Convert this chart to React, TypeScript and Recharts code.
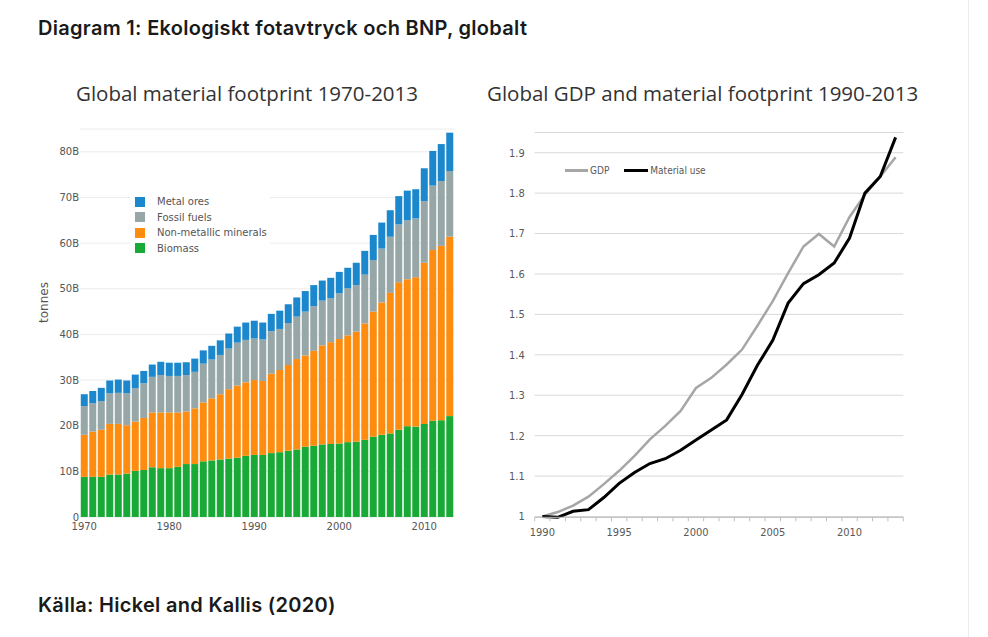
import React from "react";
import { BarChart, Bar, LineChart, Line, XAxis, YAxis, CartesianGrid, Legend } from "recharts";

// material footprint, billion tonnes, 1970-2013
const years = [
  1970, 1971, 1972, 1973, 1974, 1975, 1976, 1977, 1978, 1979, 1980, 1981, 1982, 1983, 1984,
  1985, 1986, 1987, 1988, 1989, 1990, 1991, 1992, 1993, 1994, 1995, 1996, 1997, 1998, 1999,
  2000, 2001, 2002, 2003, 2004, 2005, 2006, 2007, 2008, 2009, 2010, 2011, 2012, 2013,
];
const biomass = [
  8.8, 8.8, 8.8, 9.3, 9.3, 9.5, 10.1, 10.3, 10.9, 10.7, 10.7, 11.0, 11.6, 11.6, 12.2,
  12.4, 12.6, 12.8, 13.0, 13.4, 13.6, 13.6, 14.0, 14.2, 14.5, 14.8, 15.4, 15.6, 15.9, 16.0,
  16.1, 16.4, 16.5, 16.9, 17.6, 18.0, 18.3, 19.1, 19.9, 19.8, 20.4, 21.1, 21.2, 22.1,
];
const nonMetallic = [
  9.2, 9.9, 10.3, 11.1, 11.1, 10.6, 10.8, 11.4, 12.0, 12.2, 12.2, 11.9, 11.5, 12.2, 12.9,
  13.6, 14.3, 15.2, 15.8, 16.1, 16.4, 16.2, 17.4, 18.0, 18.8, 19.8, 20.0, 20.8, 21.7, 22.3,
  22.9, 23.4, 24.1, 25.5, 27.4, 29.0, 30.8, 32.3, 32.2, 32.7, 35.3, 37.4, 38.2, 39.3,
];
const fossil = [
  6.3, 6.2, 6.3, 6.7, 6.8, 7.0, 7.3, 7.6, 7.8, 8.2, 8.0, 8.0, 8.0, 8.0, 8.5,
  8.5, 8.6, 8.9, 9.4, 9.3, 9.1, 9.1, 9.3, 9.0, 9.2, 9.3, 9.6, 9.8, 9.8, 9.6,
  10.0, 10.3, 10.2, 10.7, 11.3, 11.8, 12.3, 12.7, 12.9, 12.9, 13.5, 14.1, 14.2, 14.4,
];
const metalOres = [
  2.6, 2.7, 2.9, 2.8, 2.9, 2.8, 3.0, 2.7, 2.7, 2.9, 2.9, 2.9, 2.8, 2.9, 2.9,
  3.0, 3.2, 3.3, 3.5, 3.8, 3.9, 3.7, 3.8, 4.0, 4.1, 4.2, 4.5, 4.6, 4.4, 4.5,
  4.7, 4.5, 4.9, 5.2, 5.5, 5.7, 5.8, 6.2, 6.5, 6.4, 7.2, 7.6, 8.1, 8.4,
];
const footprintTicks = [0, 10, 20, 30, 40, 50, 60, 70, 80];

// GDP and material use indexed to 1990 = 1
const lineYears = [
  1990, 1991, 1992, 1993, 1994, 1995, 1996, 1997, 1998, 1999, 2000, 2001,
  2002, 2003, 2004, 2005, 2006, 2007, 2008, 2009, 2010, 2011, 2012, 2013,
];
const gdp = [
  1.0, 1.011, 1.027, 1.049, 1.08, 1.113, 1.15, 1.191, 1.224, 1.261, 1.318, 1.343,
  1.376, 1.413, 1.472, 1.533, 1.602, 1.668, 1.699, 1.668, 1.741, 1.796, 1.841, 1.889,
];
const materialUse = [
  1.0, 0.998, 1.013, 1.017, 1.047, 1.082, 1.109, 1.131, 1.143, 1.164, 1.189, 1.214,
  1.239, 1.302, 1.374, 1.436, 1.528, 1.576, 1.598, 1.627, 1.689, 1.8, 1.841, 1.938,
];
const indexTicks = [1, 1.1, 1.2, 1.3, 1.4, 1.5, 1.6, 1.7, 1.8, 1.9];

const footprintData = years.map((year, i) => ({
  year,
  biomass: biomass[i],
  nonMetallic: nonMetallic[i],
  fossil: fossil[i],
  metalOres: metalOres[i],
}));

const indexData = lineYears.map((year, i) => ({ year, gdp: gdp[i], materialUse: materialUse[i] }));

const COLORS = {
  metalOres: "#1b87cc",
  fossil: "#97a6a6",
  nonMetallic: "#fd8c0f",
  biomass: "#19a936",
};

const legendItems = [
  { key: "metalOres", label: "Metal ores" },
  { key: "fossil", label: "Fossil fuels" },
  { key: "nonMetallic", label: "Non-metallic minerals" },
  { key: "biomass", label: "Biomass" },
];

const PLOTLY_FONT = '"DejaVu Sans", sans-serif';
const EXCEL_FONT = '"Liberation Sans Narrow", "DejaVu Sans Condensed", Roboto, sans-serif';
const HALF_BAND = 7.68;

const FootprintLegend = () => (
  <div style={{ background: "#fff", padding: "2px 0 3px 5px", fontFamily: PLOTLY_FONT, fontSize: 10, color: "#555" }}>
    {legendItems.map((item) => (
      <div key={item.key} style={{ height: 15.5, display: "flex", alignItems: "center" }}>
        <span style={{ width: 10, height: 10, background: COLORS[item.key as keyof typeof COLORS], marginRight: 12 }} />
        <span>{item.label}</span>
      </div>
    ))}
  </div>
);

const IndexLegend = () => (
  <div style={{ display: "flex", alignItems: "center", fontFamily: EXCEL_FONT, fontSize: 10, color: "#595959" }}>
    <span style={{ width: 23, height: 3, background: "#a6a6a6", marginRight: 2 }} />
    <span style={{ marginRight: 15 }}>GDP</span>
    <span style={{ width: 24, height: 3, background: "#000", marginRight: 2 }} />
    <span>Material use</span>
  </div>
);

const YearTick = (props: any) => {
  const { x, y, payload, index } = props;
  const year = payload.value as number;
  const isLast = index === lineYears.length - 1;
  return (
    <g>
      <line x1={x - HALF_BAND} y1={y} x2={x - HALF_BAND} y2={y + 4} stroke="#bfbfbf" />
      {isLast && <line x1={x + HALF_BAND} y1={y} x2={x + HALF_BAND} y2={y + 4} stroke="#bfbfbf" />}
      {year % 5 === 0 && (
        <text x={x} y={y + 15} textAnchor="middle" dominantBaseline="central" fontSize={11} fill="#595959" fontFamily={EXCEL_FONT}>
          {year}
        </text>
      )}
    </g>
  );
};

const textBase: React.CSSProperties = { position: "absolute", whiteSpace: "nowrap", margin: 0 };
const headingStyle: React.CSSProperties = {
  ...textBase,
  left: 38,
  lineHeight: "24px",
  fontFamily: "Inter, sans-serif",
  fontWeight: 600,
  fontSize: 20,
  letterSpacing: 0.3,
  color: "#1a1a1a",
};
const titleStyle: React.CSSProperties = {
  ...textBase,
  top: 79,
  lineHeight: "28px",
  fontFamily: '"Open Sans", sans-serif',
  fontSize: 20.5,
  color: "#333",
};

export default function App() {
  return (
    <div style={{ position: "absolute", left: 0, top: 0, width: 988, height: 637, background: "#fff", overflow: "hidden" }}>
      <div style={{ ...headingStyle, top: 16 }}>Diagram 1: Ekologiskt fotavtryck och BNP, globalt</div>

      <div style={{ ...titleStyle, left: 76 }}>Global material footprint 1970-2013</div>
      <div style={{ ...titleStyle, left: 487 }}>Global GDP and material footprint 1990-2013</div>

      <div style={{ position: "absolute", left: 30, top: 120 }}>
        <BarChart width={440} height={420} data={footprintData} margin={{ top: 9, right: 16, left: 10, bottom: 5 }} barCategoryGap="9%">
          <CartesianGrid vertical={false} stroke="#ececec" />
          <XAxis
            dataKey="year"
            interval={9}
            tickLine={false}
            axisLine={false}
            height={18}
            tickMargin={0}
            tick={{ fontSize: 10, fill: "#555", fontFamily: PLOTLY_FONT }}
          />
          <YAxis
            width={40}
            domain={[0, 85]}
            ticks={footprintTicks}
            tickFormatter={(v: number) => (v === 0 ? "0" : `${v}B`)}
            tickLine={false}
            axisLine={false}
            tickSize={0}
            tickMargin={1}
            tick={{ fontSize: 10, fill: "#555", fontFamily: PLOTLY_FONT }}
            label={{ value: "tonnes", angle: -90, position: "insideLeft", offset: 4, fontSize: 12, fill: "#555", fontFamily: PLOTLY_FONT }}
          />
          <Legend
            layout="horizontal"
            verticalAlign="middle"
            align="center"
            content={<FootprintLegend />}
            wrapperStyle={{ left: 100, top: 72, width: 140 }}
          />
          <Bar dataKey="biomass" stackId="m" fill={COLORS.biomass} isAnimationActive={false} />
          <Bar dataKey="nonMetallic" stackId="m" fill={COLORS.nonMetallic} isAnimationActive={false} />
          <Bar dataKey="fossil" stackId="m" fill={COLORS.fossil} isAnimationActive={false} />
          <Bar dataKey="metalOres" stackId="m" fill={COLORS.metalOres} isAnimationActive={false} />
        </BarChart>
      </div>

      <div style={{ position: "absolute", left: 500, top: 120 }}>
        <LineChart width={420} height={430} data={indexData} margin={{ top: 12.5, right: 16.7, left: 4.7, bottom: 7.7 }}>
          <CartesianGrid vertical={false} stroke="#d9d9d9" />
          <XAxis
            dataKey="year"
            interval={0}
            padding={{ left: HALF_BAND, right: HALF_BAND }}
            tickLine={false}
            tickSize={0}
            tickMargin={0}
            height={25}
            stroke="#bfbfbf"
            tick={<YearTick />}
          />
          <YAxis
            width={30}
            domain={[1, 1.95]}
            ticks={indexTicks}
            tickFormatter={(v: number) => (v === 1 ? "1" : v.toFixed(1))}
            tickLine={false}
            axisLine={false}
            tickMargin={4}
            tick={{ fontSize: 11, fill: "#595959", fontFamily: EXCEL_FONT }}
          />
          <Legend
            layout="horizontal"
            verticalAlign="middle"
            align="center"
            content={<IndexLegend />}
            wrapperStyle={{ left: 65, top: 45, width: 200 }}
          />
          <Line dataKey="gdp" stroke="#a6a6a6" strokeWidth={2.5} dot={false} isAnimationActive={false} />
          <Line dataKey="materialUse" stroke="#000" strokeWidth={3} dot={false} isAnimationActive={false} />
        </LineChart>
      </div>

      <div style={{ ...headingStyle, top: 593 }}>Källa: Hickel and Kallis (2020)</div>

      <div style={{ position: "absolute", left: 968, top: 0, width: 1, height: 637, background: "#ececec" }} />
    </div>
  );
}
